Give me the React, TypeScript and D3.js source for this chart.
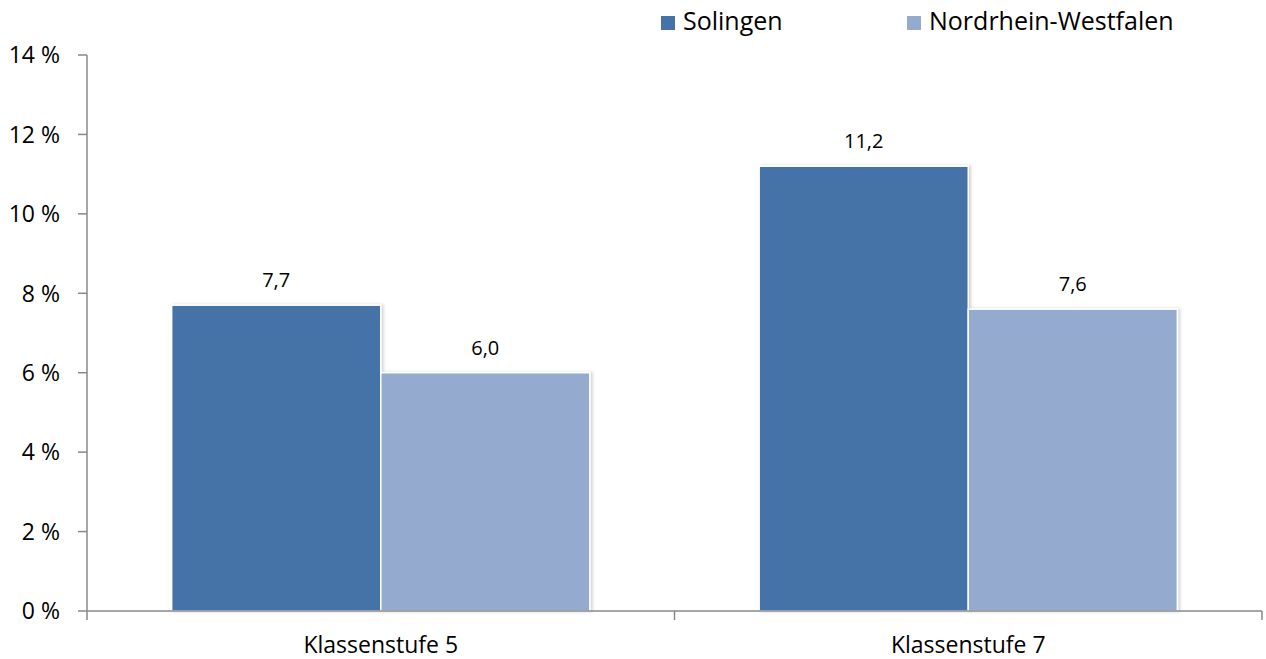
import React from "react";
import * as d3 from "d3";

const categories = ["Klassenstufe 5", "Klassenstufe 7"];
const seriesNames = ["Solingen", "Nordrhein-Westfalen"];
const solingen = [7.7, 11.2];
const nrw = [6.0, 7.6];
const yTicks = [0, 2, 4, 6, 8, 10, 12, 14];
const colors = ["#4573A7", "#94AACF"];

const W = 1266;
const H = 659;
const left = 87;
const right = 1262;
const top = 55;
const bottom = 611;
const font = "'Open Sans', sans-serif";

export default function App() {
  const x0 = d3.scaleBand<string>().domain(categories).range([left, right]).padding(0);
  const x1 = d3
    .scaleBand<string>()
    .domain(seriesNames)
    .range([0, x0.bandwidth()])
    .paddingInner(0)
    .paddingOuter(0.405);
  const y = d3.scaleLinear().domain([0, 14]).range([bottom, top]);
  const values = [solingen, nrw];
  const fmt = (v: number) => d3.format(".1f")(v).replace(".", ",");
  const catTicks = [left, ...categories.map((c) => (x0(c) as number) + x0.bandwidth())];

  return (
    <svg
      width={W}
      height={H}
      style={{ position: "absolute", left: 0, top: 0, background: "#fff" }}
      fontFamily={font}
    >
      <defs>
        <filter id="sh" x="-5%" y="-5%" width="115%" height="115%">
          <feDropShadow dx="2" dy="0" stdDeviation="1.5" floodColor="#000" floodOpacity="0.18" />
        </filter>
      </defs>
      {/* bars */}
      {categories.map((c, ci) =>
        seriesNames.map((s, si) => {
          const v = values[si][ci];
          const bx = (x0(c) as number) + (x1(s) as number);
          const by = y(v);
          return (
            <g key={c + s}>
              <rect
                x={bx}
                y={by}
                width={x1.bandwidth()}
                height={bottom - by}
                fill={colors[si]}
                stroke="#fff"
                strokeWidth={1.5}
                filter="url(#sh)"
              />
              <text
                x={bx + x1.bandwidth() / 2}
                y={by - 18}
                textAnchor="middle"
                fontSize={20}
                fill="#000"
              >
                {fmt(v)}
              </text>
            </g>
          );
        })
      )}
      {/* y axis */}
      <line x1={left} x2={left} y1={top} y2={bottom} stroke="#888" strokeWidth={1.5} />
      {yTicks.map((t) => (
        <g key={t}>
          <line x1={left - 9} x2={left} y1={y(t)} y2={y(t)} stroke="#888" strokeWidth={1.5} />
          <text x={60} y={y(t)} dy="0.36em" textAnchor="end" fontSize={23} fill="#000">
            {t} %
          </text>
        </g>
      ))}
      {/* x axis */}
      <line x1={left} x2={right} y1={bottom} y2={bottom} stroke="#888" strokeWidth={1.5} />
      {catTicks.map((t, i) => (
        <line key={i} x1={t} x2={t} y1={bottom} y2={bottom + 9} stroke="#888" strokeWidth={1.5} />
      ))}
      {categories.map((c) => (
        <text
          key={c}
          x={(x0(c) as number) + x0.bandwidth() / 2}
          y={653}
          textAnchor="middle"
          fontSize={23}
          fill="#000"
        >
          {c}
        </text>
      ))}
      {/* legend */}
      {seriesNames.map((s, i) => {
        const lx = [661, 907][i];
        return (
          <g key={s}>
            <rect x={lx} y={16} width={14} height={14} fill={colors[i]} />
            <text x={lx + 22} y={30} fontSize={25} fill="#000">
              {s}
            </text>
          </g>
        );
      })}
    </svg>
  );
}
